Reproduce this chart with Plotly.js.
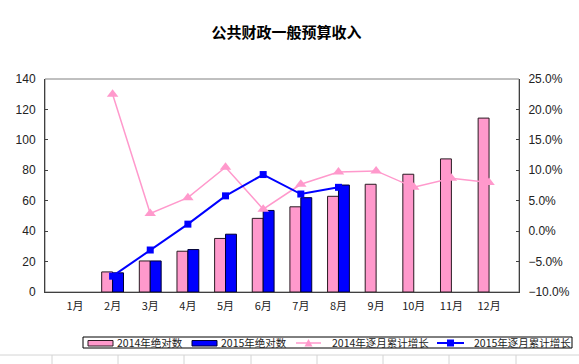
<!DOCTYPE html>
<html>
<head>
<meta charset="utf-8">
<script src="https://cdn.plot.ly/plotly-3.0.1.min.js"></script>
<style>html,body{margin:0;padding:0;background:#fff;}#chart{width:579px;height:364px;}</style>
</head>
<body>
<div id="chart"></div>
<script>
const months = ['1月','2月','3月','4月','5月','6月','7月','8月','9月','10月','11月','12月'];
const abs2014 = [null, 13.2, 20.4, 26.8, 35.2, 48.4, 56.0, 62.9, 70.8, 77.4, 87.5, 114.3];
const abs2015 = [null, 12.6, 20.4, 27.9, 38.0, 53.6, 62.0, 70.3, null, null, null, null];
const growth2014 = [null, 0.225, 0.029, 0.055, 0.105, 0.036, 0.077, 0.097, 0.099, 0.072, 0.087, 0.080];
const growth2015 = [null, -0.074, -0.031, 0.0115, 0.058, 0.093, 0.061, 0.072, null, null, null, null];
const names = ['2014年绝对数','2015年绝对数','2014年逐月累计增长','2015年逐月累计增长'];
const pink = '#FF99CC', blue = '#0000FF';

const fam = 'Liberation Sans, Arial, Noto Sans CJK SC, sans-serif';
const cjk = 'Noto Sans CJK SC, sans-serif';
const traces = [
  {type:'bar', x:months, y:abs2014, name:names[0], marker:{color:pink, line:{color:'#2a1a22', width:1}}},
  {type:'bar', x:months, y:abs2015, name:names[1], marker:{color:blue, line:{color:'#000033', width:1}}},
  {type:'scatter', mode:'lines+markers', x:months, y:growth2014, name:names[2], yaxis:'y2',
   line:{color:pink, width:1.5}, marker:{symbol:'triangle-up', size:10, color:pink}},
  {type:'scatter', mode:'lines+markers', x:months, y:growth2015, name:names[3], yaxis:'y2',
   line:{color:blue, width:2}, marker:{symbol:'square', size:7, color:blue}}
];

// layout geometry (pixels) -> paper coordinates
const L = 45, R = 519, T = 79, B = 292;
const px = v => (v - L) / (R - L);
const py = v => (B - v) / (B - T);

const shapes = [
  {type:'rect', xref:'paper', yref:'paper', x0:0, x1:1, y0:0, y1:1, line:{color:'#808080', width:1}, fillcolor:'rgba(0,0,0,0)', layer:'below'},
  // spreadsheet cell lines behind the chart
  {type:'line', xref:'paper', yref:'paper', x0:px(0), x1:px(579), y0:py(355), y1:py(355), line:{color:'#d4d4d4', width:1}}
];
[52,118,184,251,317,383,449,516].forEach(x => shapes.push(
  {type:'line', xref:'paper', yref:'paper', x0:px(x), x1:px(x), y0:py(355), y1:py(364), line:{color:'#d4d4d4', width:1}}));

// custom legend
shapes.push({type:'rect', xref:'paper', yref:'paper', x0:px(83), x1:px(572), y0:py(337), y1:py(348), line:{color:'#000', width:1}, fillcolor:'#fff'});
shapes.push({type:'rect', xref:'paper', yref:'paper', x0:px(88), x1:px(113), y0:py(340.5), y1:py(346), line:{color:'#2a1a22', width:1}, fillcolor:pink});
shapes.push({type:'rect', xref:'paper', yref:'paper', x0:px(192), x1:px(217), y0:py(340.5), y1:py(346), line:{color:'#000033', width:1}, fillcolor:blue});
shapes.push({type:'line', xref:'paper', yref:'paper', x0:px(296), x1:px(321), y0:py(343), y1:py(343), line:{color:pink, width:1.5}});
shapes.push({type:'path', xref:'paper', yref:'paper', path:`M ${px(304.5)} ${py(346.5)} L ${px(312.5)} ${py(346.5)} L ${px(308.5)} ${py(339)} Z`, line:{color:pink, width:0}, fillcolor:pink});
shapes.push({type:'line', xref:'paper', yref:'paper', x0:px(437), x1:px(464), y0:py(343), y1:py(343), line:{color:blue, width:2}});
shapes.push({type:'rect', xref:'paper', yref:'paper', x0:px(447), x1:px(454), y0:py(339.5), y1:py(346.5), line:{color:blue, width:0}, fillcolor:blue});

const legX = [115, 219, 330, 472];
const annotations = names.map((n, i) => ({
  xref:'paper', yref:'paper', x:px(legX[i]), y:py(342.5), xanchor:'left', yanchor:'middle', showarrow:false,
  text:n, font:{family:cjk, size:10.5, color:'#222'}
}));

const layout = {
  width:579, height:364,
  margin:{l:L, r:579-R, t:T, b:364-B, pad:0, autoexpand:false},
  paper_bgcolor:'#ffffff', plot_bgcolor:'#ffffff',
  font:{family:fam, size:11, color:'#222'},
  title:{text:'公共财政一般预算收入', font:{family:cjk, size:15, color:'#000', weight:'bold'}, x:0.495, xanchor:'center', y:0.91, yanchor:'middle'},
  barmode:'group', bargap:0.42, bargroupgap:0,
  showlegend:false,
  xaxis:{type:'category', showline:true, linecolor:'#404040', linewidth:1, ticks:'', showgrid:false, ticklabelstandoff:4,
         tickfont:{family:cjk, size:11, color:'#222'}, fixedrange:true},
  yaxis:{range:[0,140], dtick:20, showline:true, linecolor:'#404040', linewidth:1, ticks:'inside', ticklen:3, tickcolor:'#404040',
         showgrid:false, zeroline:false, ticklabelstandoff:6, tickfont:{size:12, color:'#222'}},
  yaxis2:{overlaying:'y', side:'right', range:[-0.10,0.25], dtick:0.05, tickformat:'.1%', showline:true, linecolor:'#404040', linewidth:1,
          ticks:'inside', ticklen:3, tickcolor:'#404040', showgrid:false, zeroline:false, ticklabelstandoff:6, tickfont:{size:12, color:'#222'}},
  shapes:shapes,
  annotations:annotations
};

Plotly.newPlot('chart', traces, layout, {displayModeBar:false, staticPlot:true});
</script>
</body>
</html>
